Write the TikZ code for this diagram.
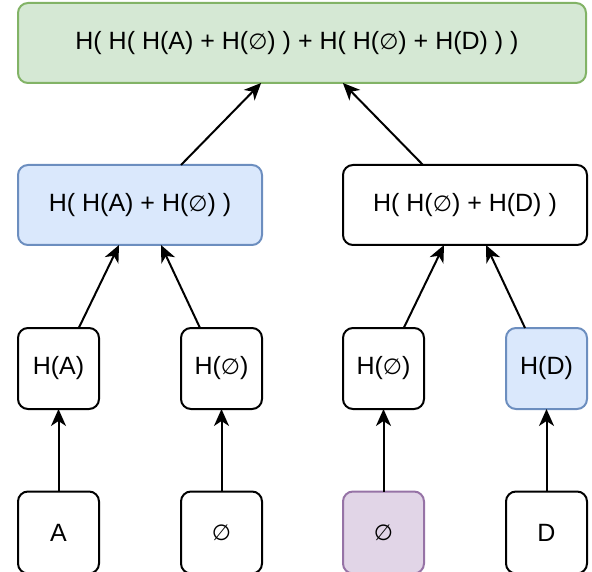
\documentclass[tikz,border=0pt]{standalone}
\usepackage{fontspec}
\setmainfont{Liberation Sans}
\newfontfamily\symfont{DejaVu Sans}
\usetikzlibrary{arrows.meta,calc}

\definecolor{greenfill}{HTML}{D5E8D4}
\definecolor{greendraw}{HTML}{82B366}
\definecolor{bluefill}{HTML}{DAE8FC}
\definecolor{bluedraw}{HTML}{6C8EBF}
\definecolor{purplefill}{HTML}{E1D5E7}
\definecolor{purpledraw}{HTML}{9673A6}

% empty set glyph, a bit smaller than the capitals
\newcommand{\nullset}{{\symfont\fontsize{22}{24}\selectfont ∅}}

\tikzset{
    box/.style={draw, line width=2pt, rounded corners=10pt, align=center,
        font=\fontsize{25}{28}\selectfont, inner sep=0pt, outer sep=0pt},
    leaf/.style={box, minimum width=81pt, minimum height=81pt},
    pair/.style={box, minimum width=244pt, minimum height=80pt},
    greenbox/.style={fill=greenfill, draw=greendraw},
    bluebox/.style={fill=bluefill, draw=bluedraw},
    purplebox/.style={fill=purplefill, draw=purpledraw},
    arr/.style={line width=2pt, -{Stealth[length=17pt, width=15pt, inset=5pt]}}
}

\begin{document}
\begin{tikzpicture}[x=1pt, y=-1pt]

    \useasboundingbox (0,0) rectangle (592,572);

    % Root
    \node[box, greenbox, minimum width=568pt, minimum height=80pt] (root) at (302,43)
        {H( H( H(A) + H(\nullset) ) + H( H(\nullset) + H(D) ) )\hspace{10pt}};

    % Second level
    \node[pair, bluebox] (hl) at (140,205) {H( H(A) + H(\nullset) )};
    \node[pair] (hr) at (465,205) {H( H(\nullset) + H(D) )};

    % Hashes of the leaves
    \node[leaf] (ha) at (58.5,368.5) {H(A)};
    \node[leaf] (hea) at (221.5,368.5) {H(\nullset)};
    \node[leaf] (heb) at (383.5,368.5) {H(\nullset)};
    \node[leaf, bluebox] (hd) at (546.5,368.5) {H(D)};

    % Leaves
    \node[leaf, minimum height=82pt] (a) at (58.5,532.5) {A};
    \node[leaf, minimum height=82pt] (ea) at (221.5,532.5) {\nullset};
    \node[leaf, purplebox, minimum height=82pt] (eb) at (383.5,532.5) {\nullset};
    \node[leaf, minimum height=82pt] (d) at (546.5,532.5) {D};

    % Leaves to hashes
    \draw[arr] (a) -- (ha);
    \draw[arr] (ea) -- (hea);
    \draw[arr] (eb) -- (heb);
    \draw[arr] (d) -- (hd);

    % Hashes to pairs
    \draw[arr] ($(ha.north west)!.75!(ha.north east)$) -- ($(hl.south west)!.414!(hl.south east)$);
    \draw[arr] ($(hea.north west)!.235!(hea.north east)$) -- ($(hl.south west)!.586!(hl.south east)$);
    \draw[arr] ($(heb.north west)!.75!(heb.north east)$) -- ($(hr.south west)!.414!(hr.south east)$);
    \draw[arr] ($(hd.north west)!.235!(hd.north east)$) -- ($(hr.south west)!.586!(hr.south east)$);

    % Pairs to root
    \draw[arr] ($(hl.north west)!.668!(hl.north east)$) -- ($(root.south west)!.428!(root.south east)$);
    \draw[arr] ($(hr.north west)!.328!(hr.north east)$) -- ($(root.south west)!.572!(root.south east)$);

\end{tikzpicture}
\end{document}
